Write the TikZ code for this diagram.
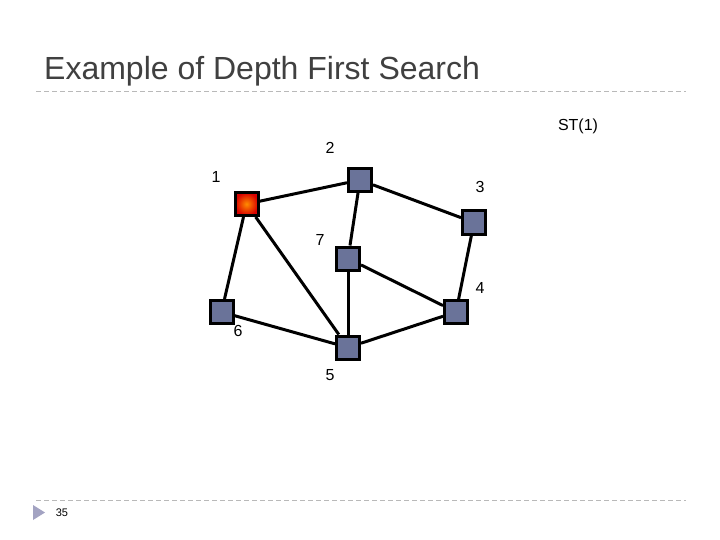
\documentclass[tikz,border=0pt]{standalone}
\usepackage{fontspec}
\setmainfont{Liberation Sans}
\begin{document}
\begin{tikzpicture}[x=1pt,y=-1pt,
  vtx/.style={draw=black,line width=3pt,fill=nodeblue,minimum size=23pt,inner sep=0pt,rectangle},
  start/.style={draw=black,line width=3pt,inner color=orange!90!yellow,outer color=red!85!black,minimum size=23pt,inner sep=0pt,rectangle},
  edge/.style={line width=3pt,black},
  lbl/.style={font=\fontsize{16}{18}\selectfont,inner sep=0pt},
  sep/.style={dash pattern=on 5pt off 3pt,gray!55,line width=0.9pt}]
\definecolor{nodeblue}{RGB}{106,115,153}
\useasboundingbox (0,0) rectangle (720,540);
\fill[white] (0,0) rectangle (720,540);
\node[anchor=base west,inner sep=0pt,text=black!75,font=\fontsize{32}{36}\selectfont] (title) at (44,80) {Example of Depth First Search};
\coordinate (tl) at (36,91); \coordinate (tr) at (686,91);
\draw[sep] (tl) -- (tr);
\coordinate (bl) at (36,500); \coordinate (br) at (686,500);
\draw[sep] (bl) -- (br);
\fill[blue!20!gray!60] (33,505) -- (45,512.5) -- (33,520) -- cycle;
\node[inner sep=0pt,font=\fontsize{11}{13}\selectfont] (pg) at (62,513) {35};
\node[lbl] (st) at (578,126) {ST(1)};
% vertices
\node[start] (n1) at (246.5,204) {};
\node[vtx] (n2) at (360,180) {};
\node[vtx] (n3) at (474,222.5) {};
\node[vtx] (n7) at (348,258.5) {};
\node[vtx] (n4) at (456,312) {};
\node[vtx] (n6) at (221.5,312) {};
\node[vtx] (n5) at (348,347.5) {};
% edges
\draw[edge] (n1) -- (n2);
\draw[edge] (n2) -- (n3);
\draw[edge] (n2) -- (n7);
\draw[edge] (n1) -- (n6);
\draw[edge] (n1) -- (n5);
\draw[edge] (n7) -- (n5);
\draw[edge] (n7) -- (n4);
\draw[edge] (n3) -- (n4);
\draw[edge] (n6) -- (n5);
\draw[edge] (n5) -- (n4);
% labels
\node[lbl] (l1) at (216,177) {1};
\node[lbl] (l2) at (330,148) {2};
\node[lbl] (l3) at (480,187) {3};
\node[lbl] (l7) at (320,240) {7};
\node[lbl] (l4) at (480,288) {4};
\node[lbl] (l6) at (238,331) {6};
\node[lbl] (l5) at (330,375) {5};
\end{tikzpicture}
\end{document}
